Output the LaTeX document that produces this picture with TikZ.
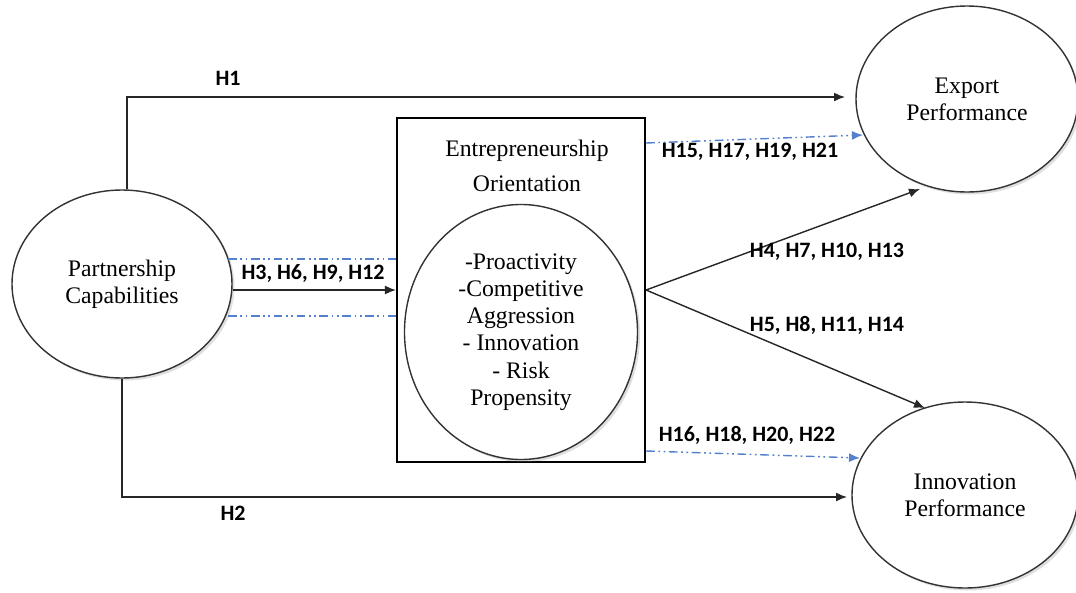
\documentclass[tikz,border=0pt]{standalone}
\usepackage{fontspec}
\setmainfont{Liberation Serif}
\newfontfamily\hypfont{Carlito}
\usetikzlibrary{arrows.meta,shapes.geometric,shadows}

\definecolor{hypblue}{RGB}{84,128,205}

\tikzset{
	construct/.style={ellipse, draw=black!80, line width=0.8pt, fill=white, inner sep=0pt, align=center,
		font=\fontsize{13.5}{15.5}\selectfont,
		drop shadow={shadow xshift=0.5mm, shadow yshift=-0.5mm, opacity=0.25}},
	arr/.style={line width=0.8pt, black!85, -{Latex[length=2.2mm,width=1.8mm]}},
	hyp/.style={line width=0.8pt, hypblue, dash pattern=on 5pt off 2pt on 1pt off 2pt on 1pt off 2pt},
	hyparr/.style={hyp, -{Latex[length=2.2mm,width=1.8mm]}},
	hlabel/.style={font=\hypfont\bfseries\fontsize{12.5}{14}\selectfont, inner sep=0pt}
}

\begin{document}
\begin{tikzpicture}[x=0.2mm, y=-0.2mm]
		\useasboundingbox (0,0) rectangle (1076,592);

		% constructs
		\node[construct, minimum width=44mm, minimum height=37.6mm] (pc) at (122,284) {Partnership\\Capabilities};
		\node[draw, line width=1.2pt, minimum width=49.6mm, minimum height=68.8mm] (box) at (521,290) {};
		\node[align=center, font=\fontsize{13.5}{15.5}\selectfont] (eotitle) at (527,166) {Entrepreneurship\\[4pt]Orientation};
		\node[construct, minimum width=46.6mm, minimum height=51mm] (eo) at (521,332)
			{-Proactivity\\-Competitive\\Aggression\\- Innovation\\- Risk\\Propensity};
		\node[construct, minimum width=44.4mm, minimum height=37.2mm] (ep) at (967,99) {Export\\Performance};
		\node[construct, minimum width=45.2mm, minimum height=37.2mm] (ip) at (965,495) {Innovation\\Performance};

		% free ends of the paths
		\coordinate (h1end) at (845,97);
		\coordinate (h2end) at (847,497);
		\coordinate (h4end) at (920,189);
		\coordinate (h5end) at (925,408);
		\coordinate (h15end) at (863,135);
		\coordinate (h16end) at (860,458);

		% direct effects
		\draw[arr] ([xshift=1mm]pc.north) |- (h1end);
		\draw[arr] (pc.south) |- (h2end);
		\node[hlabel] (h1) at (228,78) {H1};
		\node[hlabel] (h2) at (233,513) {H2};

		% partnership -> orientation
		\draw[arr] (pc.east |- box.west) -- (box.west);
		\draw[hyp] (228,259) -- (box.west |- 0,259);
		\draw[hyp] (228,316) -- (box.west |- 0,316);
		\node[hlabel] (h3) at (313,273) {H3, H6, H9, H12};

		% orientation -> outcomes
		\draw[arr] (box.east) -- (h4end);
		\draw[arr] (box.east) -- (h5end);
		\node[hlabel] (h4) at (827,252) {H4, H7, H10, H13};
		\node[hlabel] (h5) at (827,325) {H5, H8, H11, H14};

		% mediated effects
		\draw[hyparr] (box.east |- 0,143) -- (h15end);
		\draw[hyparr] (box.east |- 0,451) -- (h16end);
		\node[hlabel] (h15) at (750,152) {H15, H17, H19, H21};
		\node[hlabel] (h16) at (747,435) {H16, H18, H20, H22};
\end{tikzpicture}
\end{document}
